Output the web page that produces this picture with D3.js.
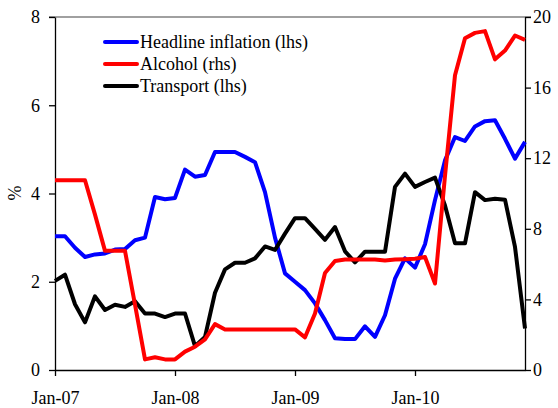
<!DOCTYPE html>
<html>
<head>
<meta charset="utf-8">
<script src="https://cdn.jsdelivr.net/npm/d3@7"></script>
<style>
  body { margin: 0; background: #fff; }
  svg text { font-family: "Liberation Serif", "Times New Roman", serif; font-size: 18px; fill: #000; }
</style>
</head>
<body>
<div id="vis"></div>
<script>
// monthly, Jan-07 .. Dec-10 (48 points)
var headline = [3.03, 3.03, 2.77, 2.56, 2.62, 2.64, 2.73, 2.74, 2.94, 3.00, 3.92, 3.87,
                3.90, 4.54, 4.38, 4.42, 4.94, 4.94, 4.94, 4.83, 4.71, 4.03, 3.00, 2.19,
                2.00, 1.81, 1.51, 1.13, 0.72, 0.70, 0.70, 0.99, 0.75, 1.24, 2.07, 2.53,
                2.32, 2.85, 3.85, 4.75, 5.28, 5.19, 5.52, 5.64, 5.66, 5.24, 4.79, 5.17];

var alcohol = [10.75, 10.75, 10.75, 10.75, 8.8, 6.75, 6.75, 6.75, 3.7, 0.6, 0.72, 0.6,
               0.6, 1.04, 1.32, 1.74, 2.6, 2.3, 2.3, 2.3, 2.3, 2.3, 2.3, 2.3,
               2.3, 1.85, 3.2, 5.5, 6.18, 6.26, 6.26, 6.26, 6.26, 6.2, 6.26, 6.28,
               6.3, 6.4, 4.9, 11.0, 16.7, 18.8, 19.1, 19.2, 17.6, 18.1, 18.95, 18.7];

var transport = [2.02, 2.16, 1.49, 1.08, 1.67, 1.36, 1.48, 1.43, 1.56, 1.28, 1.28, 1.20,
                 1.28, 1.28, 0.54, 0.75, 1.75, 2.28, 2.43, 2.43, 2.53, 2.80, 2.72, 3.09,
                 3.44, 3.44, 3.20, 2.95, 3.24, 2.69, 2.44, 2.68, 2.68, 2.68, 4.15, 4.45,
                 4.15, 4.26, 4.36, 3.73, 2.87, 2.87, 4.03, 3.85, 3.88, 3.86, 2.79, 0.94];

var xTickIdx = [0, 12, 24, 36];
var xTickLabels = ["Jan-07", "Jan-08", "Jan-09", "Jan-10"];
var leftTicks = [0, 2, 4, 6, 8];
var rightTicks = [0, 4, 8, 12, 16, 20];

var seriesNames = ["Headline inflation (lhs)", "Alcohol (rhs)", "Transport (lhs)"];
var seriesColors = ["#0000ff", "#ff0000", "#000000"];

var width = 558;
var height = 408;
var margin = { top: 17, left: 55, bottom: 38, right: 33 };

var svg = d3.select('#vis').append('svg')
    .attr('width', width)
    .attr('height', height);

var x = d3.scaleLinear()
    .domain([0, headline.length - 1])
    .range([margin.left, width - margin.right]);

var yL = d3.scaleLinear()
    .domain([0, 8])
    .range([height - margin.bottom, margin.top]);

var yR = d3.scaleLinear()
    .domain([0, 20])
    .range([height - margin.bottom, margin.top]);

// top border (grey)
svg.append('line')
    .attr('x1', margin.left - 6)
    .attr('x2', width - margin.right + 6)
    .attr('y1', margin.top)
    .attr('y2', margin.top)
    .style('stroke', '#808080')
    .style('stroke-width', 1.3);

// axes
var xAxis = svg.append('g')
    .attr('transform', 'translate(0,' + (height - margin.bottom) + ')')
    .call(d3.axisBottom(x)
        .tickValues(xTickIdx)
        .tickFormat(function (d, i) { return xTickLabels[i]; })
        .tickSize(6)
        .tickSizeOuter(0)
        .tickPadding(15));

var leftAxis = svg.append('g')
    .attr('transform', 'translate(' + margin.left + ',0)')
    .call(d3.axisLeft(yL)
        .tickValues(leftTicks)
        .tickFormat(d3.format('d'))
        .tickSize(6)
        .tickSizeOuter(0)
        .tickPadding(9));

var rightAxis = svg.append('g')
    .attr('transform', 'translate(' + (width - margin.right) + ',0)')
    .call(d3.axisRight(yR)
        .tickValues(rightTicks)
        .tickFormat(d3.format('d'))
        .tickSize(6)
        .tickSizeOuter(0)
        .tickPadding(2));

svg.selectAll('.domain, .tick line')
    .style('stroke', '#000')
    .style('stroke-width', 1.3);

svg.selectAll('.tick text')
    .style('font-family', '"Liberation Serif", "Times New Roman", serif')
    .style('font-size', '18px')
    .style('fill', '#000');

// y axis title
svg.append('text')
    .attr('transform', 'translate(21,193) rotate(-90)')
    .attr('text-anchor', 'middle')
    .text('%');

// lines
var lineL = d3.line()
    .x(function (d, i) { return x(i); })
    .y(function (d) { return yL(d); });

var lineR = d3.line()
    .x(function (d, i) { return x(i); })
    .y(function (d) { return yR(d); });

var lines = [
    { data: headline, gen: lineL, color: seriesColors[0] },
    { data: transport, gen: lineL, color: seriesColors[2] },
    { data: alcohol, gen: lineR, color: seriesColors[1] }
];

svg.append('g')
    .selectAll('path')
    .data(lines)
    .enter().append('path')
    .attr('d', function (d) { return d.gen(d.data); })
    .style('fill', 'none')
    .style('stroke', function (d) { return d.color; })
    .style('stroke-width', 4)
    .style('stroke-linejoin', 'round');

// legend
var legend = svg.append('g')
    .selectAll('g')
    .data(seriesNames)
    .enter().append('g')
    .attr('transform', function (d, i) { return 'translate(105,' + (42 + i * 22) + ')'; });

legend.append('line')
    .attr('x1', 0)
    .attr('x2', 32)
    .style('stroke', function (d, i) { return seriesColors[i]; })
    .style('stroke-width', 4)
    .style('stroke-linecap', 'round');

legend.append('text')
    .attr('x', 35)
    .attr('y', 6)
    .text(function (d) { return d; });
</script>
</body>
</html>
